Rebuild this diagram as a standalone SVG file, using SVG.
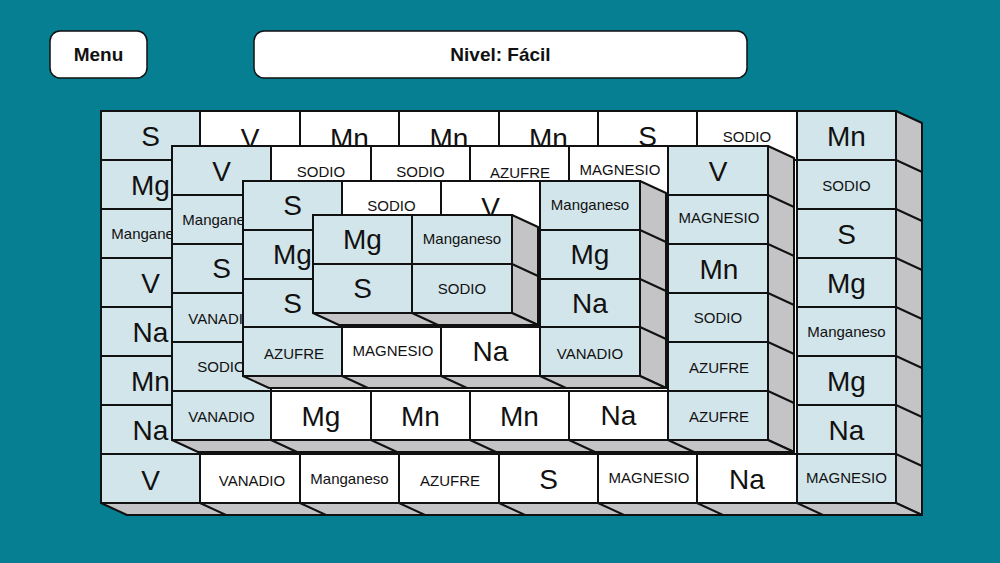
<svg xmlns="http://www.w3.org/2000/svg" width="1000" height="563" viewBox="0 0 1000 563">
<style>
.bl{fill:#d2e5ea;stroke:#111;stroke-width:2}
.wh{fill:#fff;stroke:#111;stroke-width:2}
.sd{fill:#c4c4c6;stroke:#111;stroke-width:2;stroke-linejoin:round}
.ln{stroke:#111;stroke-width:2}
text{font-family:"Liberation Sans",Arial,sans-serif;text-anchor:middle;fill:#111}
.b{font-size:28px}
.s{font-size:15px}
.btn{fill:#fff;stroke:#111;stroke-width:1.5}
.bt{font-size:19px;font-weight:bold}
</style>
<rect width="1000" height="563" fill="#067f93"/>
<g id="menu"><rect class="btn" x="50" y="31" width="97" height="47" rx="10"/><text class="bt" x="98.5" y="61">Menu</text></g>
<g id="nivel"><rect class="btn" x="254" y="31" width="493" height="47" rx="10"/><text class="bt" x="500.5" y="61">Nivel: Fácil</text></g>

<g id="layer1">
<polygon class="sd" points="896,111 922,123 922,515 896,503"/>
<polygon class="sd" points="101,503 896,503 922,515 127,515"/>
<g class="ln"><line x1="896" y1="160" x2="922" y2="172"/><line x1="896" y1="209" x2="922" y2="221"/><line x1="896" y1="258" x2="922" y2="270"/><line x1="896" y1="307" x2="922" y2="319"/><line x1="896" y1="356" x2="922" y2="368"/><line x1="896" y1="405" x2="922" y2="417"/><line x1="896" y1="454" x2="922" y2="466"/>
<line x1="200" y1="503" x2="226" y2="515"/><line x1="300" y1="503" x2="326" y2="515"/><line x1="399" y1="503" x2="425" y2="515"/><line x1="499" y1="503" x2="525" y2="515"/><line x1="598" y1="503" x2="624" y2="515"/><line x1="697" y1="503" x2="723" y2="515"/><line x1="797" y1="503" x2="823" y2="515"/></g>
<rect class="wh" x="101" y="111" width="795" height="392"/>
<rect class="bl" x="101" y="111" width="99" height="49"/><rect class="wh" x="200" y="111" width="100" height="49"/><rect class="wh" x="300" y="111" width="99" height="49"/><rect class="wh" x="399" y="111" width="100" height="49"/><rect class="wh" x="499" y="111" width="99" height="49"/><rect class="wh" x="598" y="111" width="99" height="49"/><rect class="wh" x="697" y="111" width="100" height="49"/><rect class="bl" x="797" y="111" width="99" height="49"/>
<rect class="bl" x="101" y="160" width="99" height="49"/><rect class="bl" x="101" y="209" width="99" height="49"/><rect class="bl" x="101" y="258" width="99" height="49"/><rect class="bl" x="101" y="307" width="99" height="49"/><rect class="bl" x="101" y="356" width="99" height="49"/><rect class="bl" x="101" y="405" width="99" height="49"/><rect class="bl" x="101" y="454" width="99" height="49"/>
<rect class="bl" x="797" y="160" width="99" height="49"/><rect class="bl" x="797" y="209" width="99" height="49"/><rect class="bl" x="797" y="258" width="99" height="49"/><rect class="bl" x="797" y="307" width="99" height="49"/><rect class="bl" x="797" y="356" width="99" height="49"/><rect class="bl" x="797" y="405" width="99" height="49"/><rect class="bl" x="797" y="454" width="99" height="49"/>
<rect class="wh" x="200" y="454" width="100" height="49"/><rect class="wh" x="300" y="454" width="99" height="49"/><rect class="wh" x="399" y="454" width="100" height="49"/><rect class="wh" x="499" y="454" width="99" height="49"/><rect class="wh" x="598" y="454" width="99" height="49"/><rect class="wh" x="697" y="454" width="100" height="49"/>
<text class="b" x="150.5" y="146">S</text><text class="b" x="250" y="148">V</text><text class="b" x="349.5" y="148">Mn</text><text class="b" x="449" y="148">Mn</text><text class="b" x="548.5" y="148">Mn</text><text class="b" x="647.5" y="146">S</text><text class="s" x="747" y="142">SODIO</text><text class="b" x="846.5" y="146">Mn</text>
<text class="b" x="150.5" y="195">Mg</text><text class="s" x="150.5" y="239">Manganeso</text><text class="b" x="150.5" y="293">V</text><text class="b" x="150.5" y="342">Na</text><text class="b" x="150.5" y="391">Mn</text><text class="b" x="150.5" y="440">Na</text><text class="b" x="150.5" y="490">V</text>
<text class="s" x="846.5" y="191">SODIO</text><text class="b" x="846.5" y="244">S</text><text class="b" x="846.5" y="293">Mg</text><text class="s" x="846.5" y="337">Manganeso</text><text class="b" x="846.5" y="391">Mg</text><text class="b" x="846.5" y="440">Na</text><text class="s" x="846.5" y="483">MAGNESIO</text>
<text class="s" x="252" y="486">VANADIO</text><text class="s" x="349.5" y="484">Manganeso</text><text class="s" x="450" y="486">AZUFRE</text><text class="b" x="548.5" y="489">S</text><text class="s" x="649" y="483">MAGNESIO</text><text class="b" x="747" y="489">Na</text>
</g>

<g id="layer2">
<polygon class="sd" points="768,146 794,158 794,452 768,440"/>
<polygon class="sd" points="172,440 768,440 794,452 198,452"/>
<g class="ln"><line x1="768" y1="195" x2="794" y2="207"/><line x1="768" y1="244" x2="794" y2="256"/><line x1="768" y1="293" x2="794" y2="305"/><line x1="768" y1="342" x2="794" y2="354"/><line x1="768" y1="391" x2="794" y2="403"/>
<line x1="271" y1="440" x2="297" y2="452"/><line x1="371" y1="440" x2="397" y2="452"/><line x1="470" y1="440" x2="496" y2="452"/><line x1="569" y1="440" x2="595" y2="452"/><line x1="668" y1="440" x2="694" y2="452"/></g>
<rect class="wh" x="172" y="146" width="596" height="294"/>
<rect class="bl" x="172" y="146" width="99" height="49"/><rect class="wh" x="271" y="146" width="100" height="49"/><rect class="wh" x="371" y="146" width="99" height="49"/><rect class="wh" x="470" y="146" width="99" height="49"/><rect class="wh" x="569" y="146" width="99" height="49"/><rect class="bl" x="668" y="146" width="100" height="49"/>
<rect class="bl" x="172" y="195" width="99" height="49"/><rect class="bl" x="172" y="244" width="99" height="49"/><rect class="bl" x="172" y="293" width="99" height="49"/><rect class="bl" x="172" y="342" width="99" height="49"/><rect class="bl" x="172" y="391" width="99" height="49"/>
<rect class="bl" x="668" y="195" width="100" height="49"/><rect class="bl" x="668" y="244" width="100" height="49"/><rect class="bl" x="668" y="293" width="100" height="49"/><rect class="bl" x="668" y="342" width="100" height="49"/><rect class="bl" x="668" y="391" width="100" height="49"/>
<rect class="wh" x="271" y="391" width="100" height="49"/><rect class="wh" x="371" y="391" width="99" height="49"/><rect class="wh" x="470" y="391" width="99" height="49"/><rect class="wh" x="569" y="391" width="99" height="49"/>
<text class="b" x="221.5" y="181">V</text><text class="s" x="321" y="177">SODIO</text><text class="s" x="420.5" y="177">SODIO</text><text class="s" x="520" y="178">AZUFRE</text><text class="s" x="620" y="175">MAGNESIO</text><text class="b" x="718" y="181">V</text>
<text class="s" x="221.5" y="225">Manganeso</text><text class="b" x="221.5" y="278">S</text><text class="s" x="221.5" y="324">VANADIO</text><text class="s" x="221.5" y="372">SODIO</text><text class="s" x="221.5" y="422">VANADIO</text>
<text class="s" x="719" y="223">MAGNESIO</text><text class="b" x="719" y="279">Mn</text><text class="s" x="718" y="323">SODIO</text><text class="s" x="719" y="373">AZUFRE</text><text class="s" x="719" y="422">AZUFRE</text>
<text class="b" x="321" y="426">Mg</text><text class="b" x="420.5" y="426">Mn</text><text class="b" x="519.5" y="426">Mn</text><text class="b" x="618.5" y="425">Na</text>
</g>

<g id="layer3">
<polygon class="sd" points="640,181 666,193 666,388 640,376"/>
<polygon class="sd" points="243,376 640,376 666,388 269,388"/>
<g class="ln"><line x1="640" y1="230" x2="666" y2="242"/><line x1="640" y1="279" x2="666" y2="291"/><line x1="640" y1="327" x2="666" y2="339"/>
<line x1="342" y1="376" x2="368" y2="388"/><line x1="441" y1="376" x2="467" y2="388"/><line x1="540" y1="376" x2="566" y2="388"/></g>
<rect class="wh" x="243" y="181" width="397" height="195"/>
<rect class="bl" x="243" y="181" width="99" height="49"/><rect class="wh" x="342" y="181" width="99" height="49"/><rect class="wh" x="441" y="181" width="99" height="49"/><rect class="bl" x="540" y="181" width="100" height="49"/>
<rect class="bl" x="243" y="230" width="99" height="49"/><rect class="bl" x="243" y="279" width="99" height="48"/><rect class="bl" x="243" y="327" width="99" height="49"/>
<rect class="bl" x="540" y="230" width="100" height="49"/><rect class="bl" x="540" y="279" width="100" height="48"/><rect class="bl" x="540" y="327" width="100" height="49"/>
<rect class="wh" x="342" y="327" width="99" height="49"/><rect class="wh" x="441" y="327" width="99" height="49"/>
<text class="b" x="292.5" y="215">S</text><text class="s" x="391.5" y="211">SODIO</text><text class="b" x="490.5" y="217">V</text><text class="s" x="590" y="210">Manganeso</text>
<text class="b" x="292.5" y="264">Mg</text><text class="b" x="292.5" y="313">S</text><text class="s" x="294" y="359">AZUFRE</text>
<text class="b" x="590" y="264">Mg</text><text class="b" x="590" y="313">Na</text><text class="s" x="590" y="359">VANADIO</text>
<text class="s" x="393" y="356">MAGNESIO</text><text class="b" x="490.5" y="361">Na</text>
</g>

<g id="layer4">
<polygon class="sd" points="512,215 538,227 538,325 512,313"/>
<polygon class="sd" points="313,313 512,313 538,325 339,325"/>
<g class="ln"><line x1="512" y1="264" x2="538" y2="276"/><line x1="412" y1="313" x2="438" y2="325"/></g>
<rect class="bl" x="313" y="215" width="99" height="49"/><rect class="bl" x="412" y="215" width="100" height="49"/><rect class="bl" x="313" y="264" width="99" height="49"/><rect class="bl" x="412" y="264" width="100" height="49"/>
<text class="b" x="362.5" y="249">Mg</text><text class="s" x="462" y="244">Manganeso</text><text class="b" x="362.5" y="298">S</text><text class="s" x="462" y="294">SODIO</text>
</g>
</svg>
